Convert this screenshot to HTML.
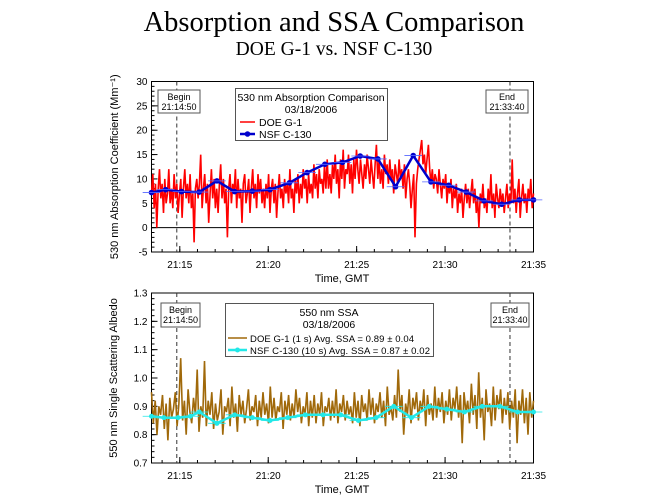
<!DOCTYPE html>
<html><head><meta charset="utf-8"><style>
body{margin:0;background:#fff;width:667px;height:500px;overflow:hidden}
svg{display:block}
</style></head><body>
<svg id="c" width="667" height="500" xmlns="http://www.w3.org/2000/svg" font-family="Liberation Sans, sans-serif">
<text x="334" y="31" text-anchor="middle" font-family="Liberation Serif, serif" font-size="28.5">Absorption and SSA Comparison</text>
<text x="334" y="55" text-anchor="middle" font-family="Liberation Serif, serif" font-size="19.5">DOE G-1 vs. NSF C-130</text>
<g id="topPanel"></g><g id="botPanel"></g>
</svg>
<script>
const tMin=13.4,tMax=35,beginT=14.83,endT=33.67;
const xTicks=[15,20,25,30,35];
const xTickLabels=["21:15","21:20","21:25","21:30","21:35"];
const absTicks=[-5,0,5,10,15,20,25,30];
const ssaTicks=[0.7,0.8,0.9,1.0,1.1,1.2,1.3];
const ssaTickLabels=["0.7","0.8","0.9","1.0","1.1","1.2","1.3"];
const g1Abs=[7,11,4,9,0,8,12,6,9,3,10,5,7,12,5,8,4,11,6,9,3,7,10,2,8,12,6,9,5,11,4,7,-3,8,10,6,9,15,4,8,11,5,9,1,7,12,6,10,4,8,3,9,13,6,10,5,8,-2,8,11,5,9,7,12,4,10,6,8,1,9,11,5,7,10,3,8,12,6,9,4,11,7,10,5,8,4,9,6,11,3,8,10,5,9,2,7,11,6,8,4,10,7,9,5,12,6,8,3,10,7,11,5,9,6,12,8,10,5,11,7,9,6,13,8,11,6,12,9,10,7,13,8,14,8,11,7,13,10,15,9,12,6,14,10,16,8,12,11,15,9,13,7,14,10,16,12,9,14,11,8,13,10,15,12,9,14,11,8,13,17,10,14,9,12,8,15,11,13,9,14,10,12,7,13,11,9,14,10,12,8,13,6,10,12,9,4,8,11,-2,9,12,14,16,18,13,15,11,14,17,12,9,12,8,11,10,7,12,9,6,10,8,11,5,9,7,10,4,8,6,9,3,7,5,8,2,6,9,5,8,4,7,10,5,8,3,6,0,7,5,9,4,6,3,8,5,11,4,7,2,9,6,4,8,5,7,3,6,9,4,7,5,14,5,8,3,7,10,2,6,9,5,7,3,8,6,10,4,7];
const c130T=[13.4,14.2,15.1,16.1,17.1,18.1,19.1,20.1,21.2,22.2,23.2,24.2,25.2,26.2,27.2,28.2,29.2,30.2,31.2,32.2,33.2,34.2,35];
const c130Abs=[7.2,7.8,7.4,7.3,9.6,7.4,7.5,7.8,9.2,11.3,13.0,13.4,14.7,14.1,8.4,14.8,9.4,8.7,7.3,5.5,4.8,5.7,5.7];
const g1Ssa=[0.95,0.84,0.92,0.80,0.90,0.87,0.94,0.82,0.91,0.78,0.93,0.86,0.89,0.95,0.83,0.91,1.07,0.85,0.92,0.80,0.96,0.88,0.84,0.93,0.87,1.03,0.81,0.90,0.86,1.06,0.83,0.92,0.87,0.95,0.82,0.91,0.85,0.88,0.96,0.80,0.90,0.88,0.93,0.83,0.97,0.86,0.91,0.81,0.94,0.87,0.92,0.84,0.89,0.96,0.85,0.90,0.88,0.94,0.83,0.92,0.86,0.95,0.87,0.91,0.84,0.97,0.86,0.93,0.85,0.90,0.88,0.95,0.82,0.92,0.87,0.94,0.85,0.91,0.86,0.96,0.88,0.93,0.84,0.90,0.87,0.95,0.83,0.92,0.86,0.94,0.84,0.91,0.87,0.95,0.83,0.90,0.88,0.93,0.85,0.92,0.86,0.96,0.84,0.91,0.88,0.94,0.85,0.92,0.87,0.90,0.84,0.95,0.86,0.92,0.83,0.94,0.88,0.91,0.85,0.96,0.87,0.93,0.84,0.91,0.88,0.95,0.86,0.92,0.83,0.97,0.87,0.90,0.85,0.94,0.86,1.03,0.88,0.94,0.80,0.91,0.87,0.96,0.84,0.93,0.89,0.95,0.85,0.92,0.88,0.96,0.83,0.94,0.87,0.91,0.85,0.97,0.86,0.93,0.88,0.95,0.84,0.92,0.87,0.96,0.85,0.93,0.89,0.97,0.86,0.94,0.77,0.95,0.88,0.92,0.84,0.98,0.87,0.94,0.82,1.02,0.86,0.93,0.78,0.96,0.88,0.91,0.83,0.97,0.85,0.94,0.89,0.96,0.84,0.93,0.87,0.95,0.82,0.92,0.86,0.96,0.77,0.92,0.87,0.96,0.84,0.93,0.80,0.95,0.86,0.92];
const c130SsaT=[13.4,14.1,14.9,15.6,16.1,17.1,18.1,19.1,20.1,21.1,22.1,23.1,24.1,25.1,26.1,27.1,28.1,29.1,30.1,31.1,32.1,33.1,34.1,35];
const c130Ssa=[0.865,0.86,0.86,0.865,0.88,0.84,0.87,0.86,0.85,0.86,0.87,0.87,0.87,0.85,0.86,0.90,0.86,0.90,0.89,0.88,0.90,0.90,0.88,0.88];

const NS="http://www.w3.org/2000/svg";
const X0=151.5,X1=533.5;
function xs(t){return X0+(t-tMin)/(tMax-tMin)*(X1-X0);}
function mk(p,tag,at){const e=document.createElementNS(NS,tag);for(const k in at)e.setAttribute(k,at[k]);p.appendChild(e);return e;}
function txt(p,x,y,s,sz,anc){const e=mk(p,'text',{x:x,y:y,'font-size':sz,'text-anchor':anc||'middle'});e.textContent=s;return e;}

function panel(g,yTop,yBot,vMin,vMax,ticks,labels,minorStep,ytitle,ytitleX,zeroLine){
 const ys=v=>yBot-(v-vMin)/(vMax-vMin)*(yBot-yTop);
 const ax=mk(g,'g',{});
 
 
 mk(ax,'rect',{x:X0,y:yTop,width:X1-X0,height:yBot-yTop,fill:'none',stroke:'#000','stroke-width':1});
 for(let v=vMin;v<=vMax+1e-9;v+=minorStep){mk(ax,'line',{x1:X0,x2:X0+3,y1:ys(v),y2:ys(v),stroke:'#000'});}
 ticks.forEach((v,i)=>{mk(ax,'line',{x1:X0,x2:X0+6,y1:ys(v),y2:ys(v),stroke:'#000'});
  const t=txt(ax,X0-4,ys(v)+3.5,labels[i],10,'end');
  
  });
 for(let m=14;m<=35;m++){mk(ax,'line',{x1:xs(m),x2:xs(m),y1:yBot,y2:yBot-3,stroke:'#000'});}
 xTicks.forEach((m,i)=>{mk(ax,'line',{x1:xs(m),x2:xs(m),y1:yBot,y2:yBot-6,stroke:'#000'});
  const t=txt(ax,xs(m),yBot+16,xTickLabels[i],10);
  
  });
 const xt=txt(ax,342,yBot+30,'Time, GMT',11);
 
 
 const yt=txt(ax,0,0,ytitle,11);yt.setAttribute('transform',`translate(${ytitleX},${(yTop+yBot)/2}) rotate(-90)`);
 
 
 if(zeroLine){mk(ax,'line',{x1:X0,x2:X1,y1:ys(0),y2:ys(0),stroke:'#000'});}
 [beginT,endT].forEach(t=>{const l=mk(ax,'line',{x1:xs(t),x2:xs(t),y1:yTop,y2:yBot,stroke:'#333','stroke-dasharray':'4,3'});
  
  });
 return ys;
}
function series(g,ts,vals,ys,color,w){
 const pts=vals.map((v,i)=>xs(ts[i]).toFixed(1)+','+ys(v).toFixed(1)).join(' ');
 return mk(g,'polyline',{points:pts,fill:'none',stroke:color,'stroke-width':w});
}
function evenT(arr){return arr.map((v,i)=>tMin+i*(tMax-tMin)/(arr.length-1));}
function boxLabel(g,x,y,w,h,l1,l2,name){
 const bx=mk(g,'g',{});
 
 
 mk(bx,'rect',{x:x,y:y,width:w,height:h,fill:'#fff',stroke:'#555'});
 txt(bx,x+w/2,y+10,l1,9);txt(bx,x+w/2,y+20,l2,9);
}

// top panel
const topG=document.getElementById('topPanel');
const ysA=panel(topG,81.5,252,-5,30,absTicks,absTicks.map(String),1,'530 nm Absorption Coefficient (Mm\u207B\u00B9)',118,true);
const redS=series(topG,evenT(g1Abs),g1Abs,ysA,'#ff0000',1.6);


const blueS=series(topG,c130T,c130Abs,ysA,'#0000cc',2.5);


c130T.forEach((t,i)=>{const p=mk(topG,'circle',{cx:xs(t),cy:ysA(c130Abs[i]),r:2.8,fill:'#0000cc'});
 
 
 mk(topG,'line',{x1:xs(t-0.5),x2:xs(t+0.5),y1:ysA(c130Abs[i]),y2:ysA(c130Abs[i]),stroke:'#5566ff','stroke-width':0.8});});
boxLabel(topG,158,90,42,23,'Begin','21:14:50','begin-label');
boxLabel(topG,486,90,42,23,'End','21:33:40','end-label');
const lg=mk(topG,'g',{});


mk(lg,'rect',{x:235.5,y:88.5,width:152,height:52,fill:'#fff',stroke:'#555'});
txt(lg,311,101,'530 nm Absorption Comparison',10.5);txt(lg,311,113,'03/18/2006',10.5);
mk(lg,'line',{x1:240,x2:255,y1:122,y2:122,stroke:'#f00','stroke-width':1.5});txt(lg,259,126,'DOE G-1',10.5,'start');
mk(lg,'line',{x1:240,x2:255,y1:134,y2:134,stroke:'#00c','stroke-width':2.5});mk(lg,'circle',{cx:247.5,cy:134,r:2.8,fill:'#00c'});txt(lg,259,138,'NSF C-130',10.5,'start');

// bottom panel
const botG=document.getElementById('botPanel');
const ysS=panel(botG,293,463,0.7,1.3,ssaTicks,ssaTickLabels,0.02,'550 nm Single Scattering Albedo',117,false);
const brS=series(botG,evenT(g1Ssa),g1Ssa,ysS,'#a0690a',1.6);


const cyS=series(botG,c130SsaT,c130Ssa,ysS,'#22e8e8',2.5);


c130SsaT.forEach((t,i)=>{const p=mk(botG,'circle',{cx:xs(t),cy:ysS(c130Ssa[i]),r:2.5,fill:'#22e8e8'});
 
 
 mk(botG,'line',{x1:xs(t-0.5),x2:xs(t+0.5),y1:ysS(c130Ssa[i]),y2:ysS(c130Ssa[i]),stroke:'#22e8e8','stroke-width':0.8});});
boxLabel(botG,161,303,39,24,'Begin','21:14:50','begin-label');
boxLabel(botG,491,303,38,24,'End','21:33:40','end-label');
const lg2=mk(botG,'g',{});


mk(lg2,'rect',{x:225.5,y:303.5,width:208,height:53,fill:'#fff',stroke:'#555'});
txt(lg2,329,316,'550 nm SSA',10.5);txt(lg2,329,328,'03/18/2006',10.5);
mk(lg2,'line',{x1:228,x2:247,y1:338,y2:338,stroke:'#a0690a','stroke-width':1.5});
const l1=txt(lg2,250,342,'DOE G-1 (1 s) Avg. SSA = 0.89 \u00B1 0.04',9.5,'start');l1.setAttribute('textLength','164');
mk(lg2,'line',{x1:228,x2:247,y1:350,y2:350,stroke:'#22e8e8','stroke-width':2.5});mk(lg2,'circle',{cx:237.5,cy:350,r:2.5,fill:'#22e8e8'});
const l2=txt(lg2,250,354,'NSF C-130 (10 s) Avg. SSA = 0.87 \u00B1 0.02',9.5,'start');l2.setAttribute('textLength','180');
</script>
</body></html>
